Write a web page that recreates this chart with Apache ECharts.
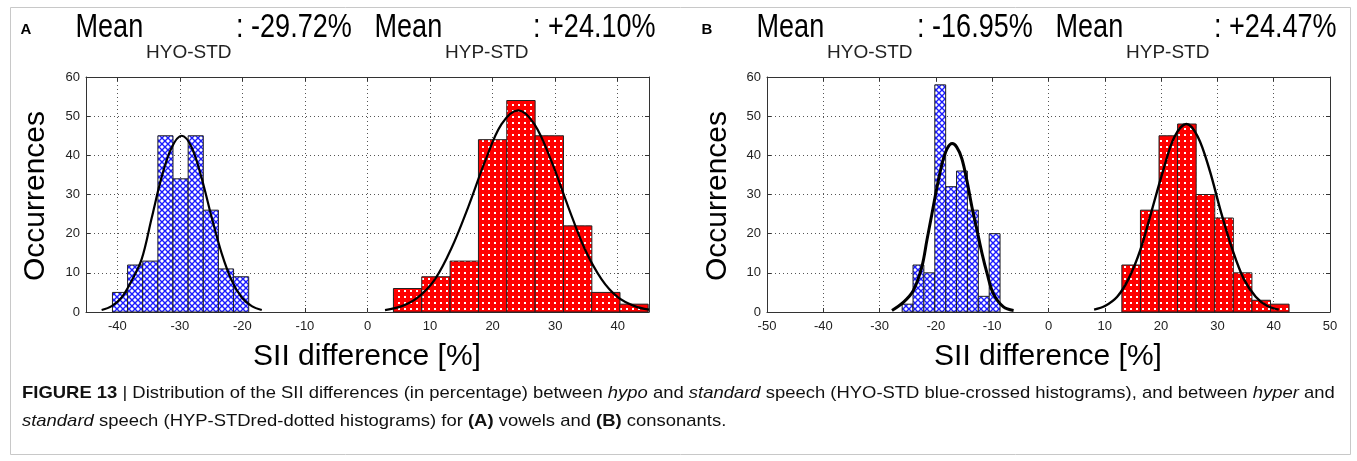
<!DOCTYPE html>
<html>
<head>
<meta charset="utf-8">
<script src="https://cdn.jsdelivr.net/npm/echarts@6/dist/echarts.min.js"></script>
<style>
  html, body { margin: 0; padding: 0; background: #fff; }
  #chart { width: 1357px; height: 461px; }
</style>
</head>
<body>
<div id="chart"></div>
<script>
// (A) vowels -- histogram bins (centre, count) and bin widths
const hyoCentersA = [-39.56, -37.14, -34.72, -32.30, -29.88, -27.46, -25.04, -22.62, -20.20]
const hyoCountsA = [5, 12, 13, 45, 34, 45, 26, 11, 9]
const hyoBinA = 2.42
const hypCentersA = [6.41, 10.94, 15.47, 20.00, 24.53, 29.06, 33.60, 38.10, 42.60]
const hypCountsA = [6, 9, 13, 44, 54, 45, 22, 5, 2]
const hypBinA = 4.53
// (B) consonants
const hyoCentersB = [-25.03, -23.10, -21.17, -19.23, -17.30, -15.37, -13.43, -11.50, -9.57]
const hyoCountsB = [2, 12, 10, 58, 32, 36, 26, 4, 20]
const hyoBinB = 1.93
const hypCentersB = [14.68, 17.98, 21.28, 24.58, 27.88, 31.18, 34.48, 37.78, 41.08]
const hypCountsB = [12, 26, 45, 48, 30, 24, 10, 3, 2]
const hypBinB = 3.3

// fitted normal curves
const fitHyoA = [[-42.5, 0.5], [-40.9, 1.5], [-39.3, 3.7], [-37.7, 8], [-36.1, 13.5], [-34.5, 24], [-32.9, 34.5],
  [-31.3, 42], [-29.7, 45], [-28.1, 42], [-26.5, 34.1], [-24.9, 24.1], [-23.3, 14.9], [-21.7, 8], [-20.1, 3.7],
  [-18.5, 1.5], [-16.9, 0.5]]
const fitHypA = [[2.8, 0.5], [5.5, 1.5], [8.1, 3.8], [10.8, 8.4], [13.4, 16.2], [16.1, 26.8], [18.8, 38.5],
  [21.4, 47.9], [24.1, 51.5], [26.7, 47.9], [29.4, 38.5], [32.1, 26.8], [34.7, 16.2], [37.4, 8.4], [40.0, 3.8],
  [42.7, 1.5], [45, 0.6]]
const fitHyoB = [[-27.8, 0.4], [-25.7, 2.6], [-24.0, 5.5], [-22.5, 11.5], [-21.6, 18.3], [-20.7, 25.1],
  [-19.8, 31.9], [-18.9, 37.9], [-18.0, 41.7], [-17.1, 43.0], [-16.3, 42.1], [-15.4, 39.2], [-14.5, 33.6],
  [-13.6, 26.8], [-12.7, 20.9], [-11.8, 14.9], [-10.9, 9.8], [-9.8, 4.7], [-8.0, 1.3], [-6.2, 0.4]]
const fitHypB = [[8.1, 0.6], [10.1, 1.6], [12.2, 3.9], [14.2, 8.4], [16.3, 15.8], [18.3, 25.7], [20.4, 36.3],
  [22.4, 44.8], [24.5, 48], [26.5, 44.8], [28.6, 36.3], [30.6, 25.7], [32.7, 15.8], [34.7, 8.4], [36.8, 3.9],
  [38.8, 1.6], [40.9, 0.6]]

const xTicksA = [-40, -30, -20, -10, 0, 10, 20, 30, 40]
const xTicksB = [-50, -40, -30, -20, -10, 0, 10, 20, 30, 40, 50]
const meansA = ['-29.72%', '+24.10%']
const meansB = ['-16.95%', '+24.47%']

const FONT = "'Liberation Sans', Arial, sans-serif"

// fill patterns
function makePattern (kind) {
  const c = document.createElement('canvas')
  c.width = 6
  c.height = 6
  const ctx = c.getContext('2d')
  if (kind === 'dots') {
    ctx.fillStyle = '#ff0000'
    ctx.fillRect(0, 0, 6, 6)
    ctx.fillStyle = '#ffffff'
    ctx.fillRect(2, 2, 2, 2)
  } else {
    ctx.fillStyle = '#ffffff'
    ctx.fillRect(0, 0, 6, 6)
    ctx.strokeStyle = '#1a1aff'
    ctx.lineWidth = 1.4
    ctx.beginPath()
    ctx.moveTo(-1, -1); ctx.lineTo(7, 7)
    ctx.moveTo(7, -1); ctx.lineTo(-1, 7)
    ctx.stroke()
  }
  return c
}
const crossFill = { image: makePattern('cross'), repeat: 'repeat' }
const dotFill = { image: makePattern('dots'), repeat: 'repeat' }

function binData (centers, counts, width) {
  return centers.map((c, i) => [c, counts[i], width])
}

function histSeries (idx, centers, counts, width, fill) {
  return {
    type: 'custom',
    xAxisIndex: idx * 2,
    yAxisIndex: idx * 2,
    z: 2,
    encode: { x: 0, y: 1 },
    data: binData(centers, counts, width),
    renderItem: function (params, api) {
      const w = api.value(2)
      const p0 = api.coord([api.value(0) - w / 2, api.value(1)])
      const p1 = api.coord([api.value(0) + w / 2, 0])
      const rect = echarts.graphic.clipRectByRect(
        { x: p0[0], y: p0[1], width: p1[0] - p0[0], height: p1[1] - p0[1] },
        { x: params.coordSys.x, y: params.coordSys.y, width: params.coordSys.width, height: params.coordSys.height }
      )
      if (!rect) return
      return {
        type: 'rect',
        shape: rect,
        style: { fill: fill, stroke: '#222', lineWidth: 1 }
      }
    }
  }
}

function fitSeries (idx, pts, width) {
  return {
    type: 'line',
    xAxisIndex: idx * 2,
    yAxisIndex: idx * 2,
    z: 5,
    data: pts,
    smooth: 0.35,
    showSymbol: false,
    lineStyle: { color: '#000', width: width }
  }
}

function xAxes (gridIndex, min, max, ticks) {
  const base = {
    gridIndex: gridIndex,
    type: 'value',
    min: min,
    max: max,
    axisLine: { show: true, onZero: false, lineStyle: { color: '#333', width: 1 } },
    axisTick: { show: true, inside: true, length: 4, customValues: ticks, lineStyle: { color: '#333' } },
    axisLabel: { customValues: ticks, margin: 8, fontSize: 13, color: '#222', fontFamily: FONT },
    splitLine: { show: true, lineStyle: { color: '#555', type: [1, 3], width: 1 } }
  }
  return [
    Object.assign({}, base, { position: 'bottom' }),
    Object.assign({}, base, { position: 'top', axisLabel: { show: false }, splitLine: { show: false } })
  ]
}

function yAxes (gridIndex) {
  const base = {
    gridIndex: gridIndex,
    type: 'value',
    min: 0,
    max: 60,
    interval: 10,
    axisLine: { show: true, onZero: false, lineStyle: { color: '#333', width: 1 } },
    axisTick: { show: true, inside: true, length: 4, lineStyle: { color: '#333' } },
    axisLabel: { margin: 6, fontSize: 13, color: '#222', fontFamily: FONT },
    splitLine: { show: true, lineStyle: { color: '#555', type: [1, 3], width: 1 } }
  }
  return [
    Object.assign({}, base, { position: 'left' }),
    Object.assign({}, base, { position: 'right', axisLabel: { show: false }, splitLine: { show: false } })
  ]
}

function textEl (x, y, text, extra, props) {
  return Object.assign({ type: 'text', x: x, y: y, silent: true,
    style: Object.assign({ text: text, fontFamily: FONT, fill: '#000' }, extra) }, props || {})
}

// "Mean_HYO-STD: ..  Mean_HYP-STD: .." above a panel, dx = panel offset
function titleRow (dx, letter, means) {
  const big = { fontSize: 33, textVerticalAlign: 'middle' }
  const sub = { fontSize: 19, fill: '#222', textVerticalAlign: 'middle' }
  const narrow = { scaleX: 0.82 }
  return [
    textEl(dx + 26, 30, letter, { fontSize: 15, fontWeight: 'bold', textAlign: 'center', textVerticalAlign: 'middle' }),
    textEl(dx + 75.5, 28, 'Mean', big, narrow),
    textEl(dx + 146, 52.5, 'HYO-STD', sub),
    textEl(dx + 236, 28, ': ' + means[0], big, narrow),
    textEl(dx + 374.5, 28, 'Mean', big, narrow),
    textEl(dx + 445, 52.5, 'HYP-STD', sub),
    textEl(dx + 533, 28, ': ' + means[1], big, narrow)
  ]
}

const capRich = {
  b: { fontSize: 17, fontWeight: 'bold', fontFamily: FONT, fill: '#111' },
  i: { fontSize: 17, fontStyle: 'italic', fontFamily: FONT, fill: '#111' }
}
const captionLine1 = '{b|FIGURE 13} | Distribution of the SII differences (in percentage) between {i|hypo} and {i|standard} speech (HYO-STD blue-crossed histograms), and between {i|hyper} and'
const captionLine2 = '{i|standard} speech (HYP-STDred-dotted histograms) for {b|(A)} vowels and {b|(B)} consonants.'

const myChart = echarts.init(document.getElementById('chart'))
const option = {
  animation: false,
  backgroundColor: '#fff',
  grid: [
    { left: 86, top: 77, width: 563, height: 235 },
    { left: 767, top: 77, width: 563, height: 235 }
  ],
  xAxis: [].concat(xAxes(0, -45, 45, xTicksA), xAxes(1, -50, 50, xTicksB)),
  yAxis: [].concat(yAxes(0), yAxes(1)),
  series: [
    histSeries(0, hyoCentersA, hyoCountsA, hyoBinA, crossFill),
    histSeries(0, hypCentersA, hypCountsA, hypBinA, dotFill),
    fitSeries(0, fitHyoA, 2.2),
    fitSeries(0, fitHypA, 2.2),
    histSeries(1, hyoCentersB, hyoCountsB, hyoBinB, crossFill),
    histSeries(1, hypCentersB, hypCountsB, hypBinB, dotFill),
    fitSeries(1, fitHyoB, 3),
    fitSeries(1, fitHypB, 2.4)
  ],
  graphic: [].concat(
    [{ type: 'rect', silent: true, shape: { x: 10.5, y: 7.5, width: 1340, height: 447 },
      style: { fill: null, stroke: '#c8c8c8', lineWidth: 1 } }],
    titleRow(0, 'A', meansA),
    titleRow(681, 'B', meansB),
    [
      // axis titles
      textEl(36, 196, 'Occurrences', { fontSize: 30, textAlign: 'center', textVerticalAlign: 'middle' }, { rotation: Math.PI / 2 }),
      textEl(718, 196, 'Occurrences', { fontSize: 30, textAlign: 'center', textVerticalAlign: 'middle' }, { rotation: Math.PI / 2 }),
      textEl(367, 357, 'SII difference [%]', { fontSize: 30, textAlign: 'center', textVerticalAlign: 'middle' }),
      textEl(1048, 357, 'SII difference [%]', { fontSize: 30, textAlign: 'center', textVerticalAlign: 'middle' }),
      // caption
      textEl(22, 393, captionLine1, { fontSize: 17, fill: '#111', textVerticalAlign: 'middle', rich: capRich }, { scaleX: 1.085 }),
      textEl(22, 421, captionLine2, { fontSize: 17, fill: '#111', textVerticalAlign: 'middle', rich: capRich }, { scaleX: 1.085 })
    ]
  )
}
myChart.setOption(option)
window.onresize = function () {
  myChart.resize()
}
</script>
</body>
</html>
